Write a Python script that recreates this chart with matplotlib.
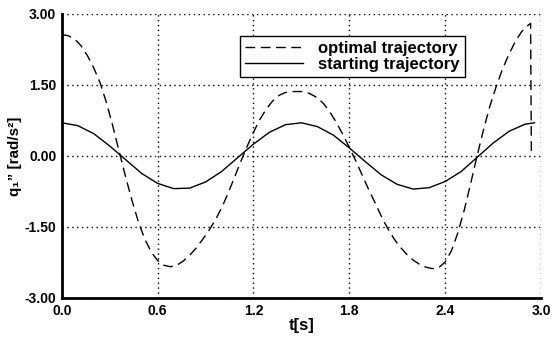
import matplotlib
matplotlib.use('Agg')
import matplotlib.pyplot as plt
from matplotlib.ticker import FormatStrFormatter

plt.rcParams['font.family'] = ['Liberation Sans', 'DejaVu Sans']

# optimal trajectory (dashed)
t_opt = [0.0, 0.04, 0.08, 0.12, 0.16, 0.2, 0.24, 0.28, 0.32, 0.36, 0.40,
         0.44, 0.48, 0.52, 0.56, 0.60, 0.64, 0.68, 0.72, 0.76, 0.80, 0.84,
         0.88, 0.92, 0.96, 1.00, 1.04, 1.08, 1.12, 1.16, 1.20, 1.24, 1.28,
         1.32, 1.36, 1.40, 1.45, 1.50, 1.55, 1.60, 1.64, 1.68, 1.72, 1.76,
         1.80, 1.84, 1.88, 1.92, 1.96, 2.00, 2.04, 2.08, 2.12, 2.16, 2.20,
         2.24, 2.28, 2.32, 2.36, 2.40, 2.44, 2.48, 2.52, 2.56, 2.60, 2.64,
         2.68, 2.72, 2.76, 2.80, 2.84, 2.88, 2.92, 2.935, 2.94]
q_opt = [2.56, 2.54, 2.47, 2.33, 2.12, 1.86, 1.54, 1.12, 0.62, 0.08, -0.45,
         -0.95, -1.40, -1.76, -2.03, -2.21, -2.31, -2.34, -2.31, -2.22, -2.10,
         -1.95, -1.77, -1.58, -1.36, -1.10, -0.80, -0.46, -0.12, 0.20, 0.50,
         0.77, 0.99, 1.16, 1.28, 1.34, 1.36, 1.36, 1.32, 1.23, 1.10, 0.92,
         0.70, 0.45, 0.18, -0.10, -0.40, -0.70, -0.98, -1.27, -1.53, -1.75,
         -1.93, -2.08, -2.20, -2.29, -2.35, -2.38, -2.36, -2.24, -2.00, -1.62,
         -1.14, -0.58, 0.0, 0.55, 1.05, 1.47, 1.84, 2.15, 2.42, 2.63, 2.76,
         2.80, 0.0]

# starting trajectory (solid)
t_start = [0.0, 0.1, 0.2, 0.3, 0.4, 0.5, 0.6, 0.7, 0.8, 0.9, 1.0, 1.1, 1.2,
           1.3, 1.4, 1.5, 1.6, 1.7, 1.8, 1.9, 2.0, 2.1, 2.2, 2.3, 2.4, 2.5,
           2.6, 2.7, 2.8, 2.9, 2.96]
q_start = [0.70, 0.64, 0.47, 0.21, -0.08, -0.37, -0.58, -0.69, -0.68, -0.55,
           -0.33, -0.04, 0.25, 0.50, 0.66, 0.70, 0.62, 0.44, 0.17, -0.12,
           -0.40, -0.60, -0.70, -0.67, -0.54, -0.33, -0.03, 0.27, 0.52, 0.67,
           0.70]

xticks = [0.0, 0.6, 1.2, 1.8, 2.4, 3.0]
yticks = [-3.0, -1.5, 0.0, 1.5, 3.0]

fig = plt.figure(figsize=(5.52, 3.39), dpi=100)
ax = fig.add_axes([0.112, 0.121, 0.868, 0.838])

ax.plot(t_opt, q_opt, color='black', lw=1.0, linestyle=(0, (7, 4)),
        label='optimal trajectory')
ax.plot(t_start, q_start, color='black', lw=1.0, label='starting trajectory')

ax.set_xlim(0, 3.0)
ax.set_ylim(-3.0, 3.0)
ax.set_xticks(xticks)
ax.set_yticks(yticks)
ax.xaxis.set_major_formatter(FormatStrFormatter('%.1f'))
ax.yaxis.set_major_formatter(FormatStrFormatter('%.2f'))
ax.grid(True, linestyle=(0, (1, 2.5)), color='black', lw=1.0)

for s in ['top', 'right']:
  ax.spines[s].set_visible(False)
for s in ['left', 'bottom']:
  ax.spines[s].set_linewidth(2.0)

ax.tick_params(axis='both', length=0, pad=4, labelsize=10)
for lab in ax.get_xticklabels() + ax.get_yticklabels():
  lab.set_fontweight('bold')

ax.set_xlabel('t[s]', fontsize=12, fontweight='bold', labelpad=0)
ax.set_ylabel('q\u2081\u201d [rad/s\u00b2]', fontsize=11, fontweight='bold',
              labelpad=2)

leg = ax.legend(loc='upper right', bbox_to_anchor=(0.858, 0.952),
                fancybox=False, framealpha=1, edgecolor='black',
                borderpad=0.3, labelspacing=0.05, handlelength=3.5,
                handletextpad=0.9, prop={'size': 12, 'weight': 'bold'})
leg.get_frame().set_linewidth(1.0)

fig.savefig('out.png', dpi=100)
